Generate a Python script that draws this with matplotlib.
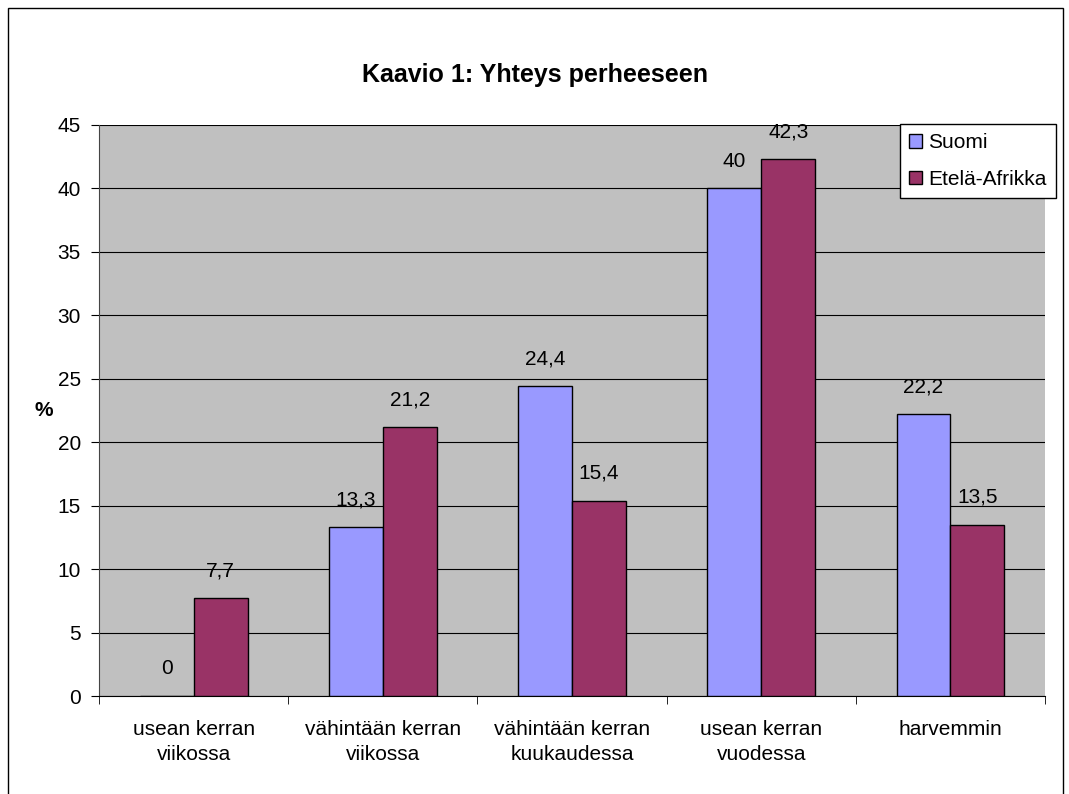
import numpy as np
import matplotlib.pyplot as plt

plt.rcParams['font.family'] = ['Liberation Sans', 'DejaVu Sans']

# Data
categories = ['usean kerran\nviikossa', 'vähintään kerran\nviikossa',
              'vähintään kerran\nkuukaudessa', 'usean kerran\nvuodessa', 'harvemmin']
suomi = [0, 13.3, 24.4, 40, 22.2]
etela_afrikka = [7.7, 21.2, 15.4, 42.3, 13.5]
series_names = ['Suomi', 'Etelä-Afrikka']

fs = 15

fig = plt.figure(figsize=(10.69, 7.94), dpi=100)
ax = fig.add_axes([0.0926, 0.1234, 0.885, 0.7192])

# outer chart border
fig.patches.append(plt.Rectangle((8 / 1069, -0.1), 1055 / 1069, 1.09, transform=fig.transFigure,
                                 fill=False, edgecolor='black', linewidth=1))

x = np.arange(len(categories))
w = 0.285
b1 = ax.bar(x - w / 2, suomi, w, color='#9999FF', edgecolor='black', linewidth=1, label=series_names[0], zorder=3)
b2 = ax.bar(x + w / 2, etela_afrikka, w, color='#993366', edgecolor='black', linewidth=1, label=series_names[1], zorder=3)

def fmt(v):
    return f'{v:g}'.replace('.', ',')

for bars, vals in ((b1, suomi), (b2, etela_afrikka)):
    for r, v in zip(bars, vals):
        ax.text(r.get_x() + r.get_width() / 2, v + 1.4, fmt(v), ha='center', va='bottom', fontsize=fs)

ax.set_facecolor('#C0C0C0')
ax.set_xlim(-0.5, len(categories) - 0.5)
ax.set_ylim(0, 45)
ax.set_yticks(np.arange(0, 46, 5))
ax.yaxis.grid(True, color='black', linewidth=0.8)
ax.set_axisbelow(True)
ax.set_xticks(x)
ax.set_xticklabels(categories, fontsize=fs, linespacing=1.45)
ax.tick_params(axis='x', length=0, pad=17)
ax.set_xticks(np.arange(-0.5, len(categories), 1), minor=True)
ax.tick_params(axis='x', which='minor', length=6, direction='out')
ax.tick_params(axis='y', labelsize=fs, length=6, direction='out', pad=7)
for s in ['top', 'right']:
    ax.spines[s].set_visible(False)
ax.spines['left'].set_color('#444444')
ax.spines['bottom'].set_color('black')

ax.set_ylabel('%', fontsize=fs, fontweight='bold', rotation=0, labelpad=10, va='center')
fig.text(0.5, 1 - 75 / 794, 'Kaavio 1: Yhteys perheeseen', ha='center', va='center', fontsize=18, fontweight='bold')

leg = fig.legend(loc='upper left', bbox_to_anchor=(900 / 1069, 1 - 124 / 794), fontsize=fs,
                 frameon=True, fancybox=False, edgecolor='black', framealpha=1,
                 handlelength=0.6, handleheight=0.6, handletextpad=0.3, labelspacing=0.85,
                 borderpad=0.45, borderaxespad=0)
leg.get_frame().set_linewidth(1)

plt.savefig('out.png', dpi=100)
